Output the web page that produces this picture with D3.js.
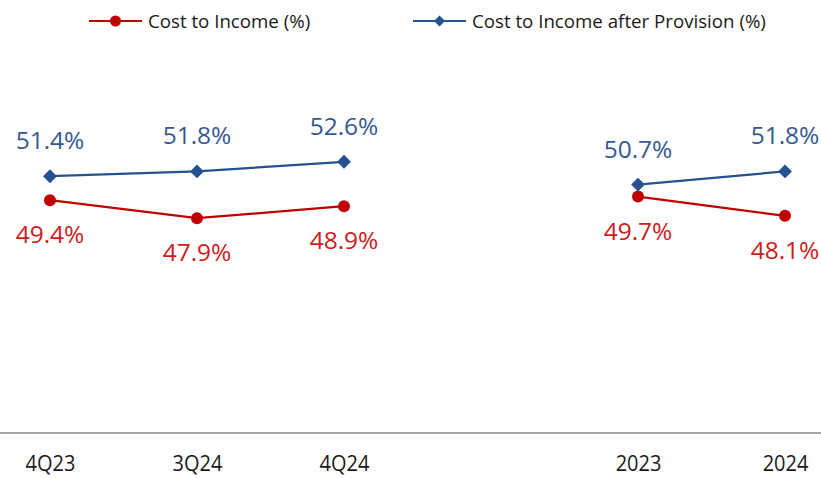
<!DOCTYPE html>
<html>
<head>
<meta charset="utf-8">
<script src="https://cdn.jsdelivr.net/npm/d3@7"></script>
<style>
  html, body { margin: 0; padding: 0; background: #ffffff; }
  svg { display: block; }
</style>
</head>
<body>
<svg id="chart" width="821" height="478"></svg>
<script>
// Categories along the x axis; the empty slot separates quarterly from annual figures
const categories = ["4Q23", "3Q24", "4Q24", "", "2023", "2024"];
const costToIncome = [49.4, 47.9, 48.9, null, 49.7, 48.1];
const costToIncomeAfterProvision = [51.4, 51.8, 52.6, null, 50.7, 51.8];
const seriesNames = ["Cost to Income (%)", "Cost to Income after Provision (%)"];

const W = 821, H = 478;
const RED = "#C00000", BLUE = "#24518F";
const RED_TXT = "#CC1C1C", BLUE_TXT = "#36598F";
const FONT = "'Open Sans', 'Noto Sans', sans-serif";

const svg = d3.select("#chart");

const x = d3.scalePoint().domain(d3.range(categories.length)).range([50, 785]);
const y = d3.scaleLinear().domain([30, 60]).range([433, 73]);

// Gray baseline across the full width
svg.append("line")
  .attr("x1", 0).attr("x2", W).attr("y1", y(30)).attr("y2", y(30))
  .attr("stroke", "#A6A6A6").attr("stroke-width", 2);

// Bottom axis: labels only, slightly condensed
const axis = d3.axisBottom(x).tickSize(0).tickPadding(0).tickFormat(i => categories[i]);
const gx = svg.append("g").attr("transform", `translate(0,${y(30)})`).call(axis);
gx.select(".domain").remove();
gx.selectAll("text")
  .attr("font-family", FONT).attr("font-size", 21.5).attr("fill", "#1a1a1a")
  .attr("x", 0).attr("y", 38).attr("dy", null)
  .attr("transform", "scale(0.93,1)");

function drawSeries(values, color, txtColor, marker, labelAbove) {
  const pts = values.map((v, i) => ({ i, v })).filter(d => d.v != null);
  const line = d3.line().x(d => x(d.i)).y(d => y(d.v));
  // Quarterly and annual points are connected separately
  const segs = [pts.filter(d => d.i < 3), pts.filter(d => d.i > 3)];
  segs.forEach(s => svg.append("path").attr("d", line(s))
    .attr("fill", "none").attr("stroke", color).attr("stroke-width", 2.2));
  pts.forEach(d => {
    if (marker === "circle") {
      svg.append("circle").attr("cx", x(d.i)).attr("cy", y(d.v)).attr("r", 6).attr("fill", color);
    } else {
      svg.append("path").attr("d", d3.symbol(d3.symbolSquare, 96)())
        .attr("transform", `translate(${x(d.i)},${y(d.v)}) rotate(45)`).attr("fill", color);
    }
    svg.append("text")
      .attr("x", x(d.i)).attr("y", y(d.v) + (labelAbove ? -27 : 43))
      .attr("text-anchor", "middle")
      .attr("font-family", FONT).attr("font-size", 24.5).attr("fill", txtColor)
      .text(d.v.toFixed(1) + "%");
  });
}

drawSeries(costToIncomeAfterProvision, BLUE, BLUE_TXT, "diamond", true);
drawSeries(costToIncome, RED, RED_TXT, "circle", false);

// Legend
const legend = [
  { name: seriesNames[0], color: RED, marker: "circle", x0: 89 },
  { name: seriesNames[1], color: BLUE, marker: "diamond", x0: 413 }
];
legend.forEach(l => {
  const g = svg.append("g").attr("transform", `translate(${l.x0},21)`);
  g.append("line").attr("x1", 0).attr("x2", 53).attr("stroke", l.color).attr("stroke-width", 2.2);
  if (l.marker === "circle") {
    g.append("circle").attr("cx", 26.5).attr("r", 5.5).attr("fill", l.color);
  } else {
    g.append("path").attr("d", d3.symbol(d3.symbolSquare, 60)())
      .attr("transform", "translate(26.5,0) rotate(45)").attr("fill", l.color);
  }
  g.append("text").attr("x", 59).attr("y", 7)
    .attr("font-family", FONT).attr("font-size", 18.7).attr("fill", "#1a1a1a")
    .text(l.name);
});
</script>
</body>
</html>
